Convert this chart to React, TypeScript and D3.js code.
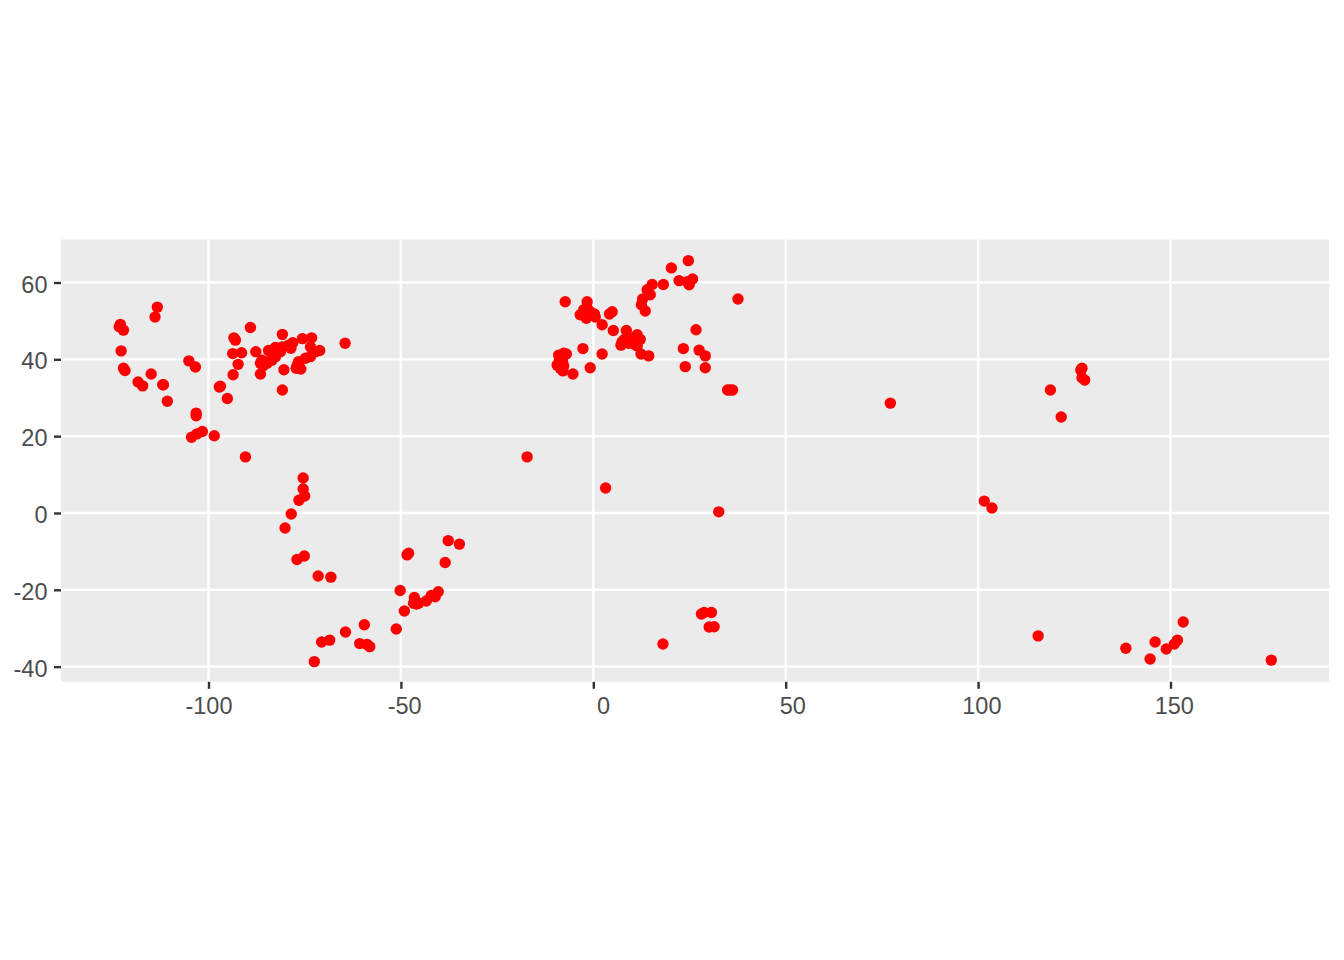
import React, { useEffect, useRef } from 'react';
import * as d3 from 'd3';

// [longitude, latitude]
const northAmerica: [number, number][] = [
  [-122.9, 49.1], [-123.2, 48.5], [-122.1, 47.6], [-122.7, 42.2], [-122.1, 37.7], [-121.7, 37.1],
  [-118.3, 34.1], [-117.1, 33.1], [-114.9, 36.2], [-111.9, 33.4], [-111.7, 33.4], [-110.7, 29.1],
  [-113.3, 53.6], [-113.9, 51.0], [-105.1, 39.6], [-103.4, 38.0], [-103.2, 26.0], [-103.2, 25.3],
  [-104.4, 19.7], [-103.0, 20.6], [-101.6, 21.2], [-98.5, 20.1], [-90.4, 14.6], [-97.2, 32.8],
  [-96.9, 33.0], [-95.1, 29.8], [-93.6, 36.0], [-92.3, 38.7], [-93.7, 41.5], [-91.4, 41.7],
  [-93.4, 45.6], [-93.0, 45.0], [-89.1, 48.3], [-87.7, 42.0], [-80.8, 46.5], [-86.5, 36.2],
  [-80.4, 37.3], [-80.8, 32.0], [-75.6, 45.4], [-73.2, 45.6], [-64.5, 44.2], [-73.5, 43.2],
  [-71.1, 42.3], [-72.2, 42.0], [-73.5, 40.7], [-74.8, 40.3], [-76.6, 39.4], [-77.2, 37.7],
  [-76.0, 37.5], [-76.9, 38.5], [-78.1, 44.3], [-79.2, 43.7], [-78.6, 42.9], [-80.9, 43.2],
  [-83.5, 42.3], [-81.8, 42.0], [-82.6, 40.7], [-86.1, 39.8], [-86.5, 39.0], [-84.8, 39.0],
  [-85.8, 38.3], [-84.4, 39.4], [-83.5, 39.8], [-81.3, 42.0], [-84.4, 42.3], [-82.6, 43.1],
  [-77.0, 38.0], [-76.4, 38.0],
];

const southAmerica: [number, number][] = [
  [-75.4, 9.1], [-75.4, 6.25], [-75.0, 4.4], [-76.5, 3.3], [-78.5, -0.26], [-80.1, -3.9],
  [-77.0, -12.1], [-75.1, -11.2], [-71.5, -16.4], [-68.2, -16.7], [-64.4, -31.0], [-59.5, -29.1],
  [-60.7, -34.0], [-58.8, -34.2], [-58.1, -34.8], [-68.5, -33.1], [-70.6, -33.6], [-72.5, -38.7],
  [-51.2, -30.2], [-49.1, -25.5], [-50.2, -20.2], [-48.4, -10.9], [-48.0, -10.5], [-37.7, -7.2],
  [-34.8, -8.1], [-38.5, -12.9], [-40.3, -20.5], [-41.1, -21.8], [-42.1, -21.5], [-43.4, -22.9],
  [-46.5, -22.0], [-46.7, -23.5], [-45.4, -23.5], [-46.0, -23.7],
];

const europe: [number, number][] = [
  [-7.3, 55.0], [-1.6, 55.0], [-1.6, 53.3], [-2.5, 52.9], [-3.4, 51.6], [-1.8, 50.7],
  [-0.8, 52.4], [0.3, 51.8], [0.5, 51.0], [4.9, 52.4], [4.2, 51.8], [2.3, 49.0],
  [5.2, 47.5], [8.6, 47.5], [11.4, 46.4], [12.2, 45.2], [8.1, 45.2], [9.2, 44.2],
  [7.2, 43.7], [10.9, 43.8], [11.4, 43.5], [10.5, 45.5], [7.5, 44.6], [12.4, 41.4],
  [14.4, 40.9], [-2.7, 42.8], [2.3, 41.4], [-0.8, 37.8], [-5.3, 36.2], [-7.7, 41.6],
  [-9.0, 41.1], [-7.0, 41.4], [-8.8, 39.8], [-9.4, 38.5], [-7.7, 38.3], [-8.6, 37.7],
  [-7.9, 37.0], [13.5, 52.6], [12.5, 54.2], [12.8, 55.7], [14.0, 58.1], [14.8, 56.8],
  [15.3, 59.5], [18.2, 59.5], [20.3, 63.8], [24.7, 65.7], [22.3, 60.5], [24.9, 59.4],
  [25.8, 60.9], [24.4, 60.2], [37.6, 55.7], [26.7, 47.7], [23.4, 42.8], [27.5, 42.4],
  [29.1, 40.9], [23.9, 38.1], [29.1, 37.8], [34.9, 32.0], [35.5, 32.0], [36.2, 32.0],
  [-8.0, 40.6], [-8.6, 39.2], [-8.0, 39.4], [-8.3, 38.6], [-2.2, 52.0], [-1.2, 51.6],
];

const africa: [number, number][] = [
  [-17.2, 14.6], [3.2, 6.5], [32.6, 0.3], [18.1, -34.1], [28.1, -26.3], [28.8, -25.9],
  [30.7, -25.9], [30.1, -29.7], [31.4, -29.6],
];

const asiaPacific: [number, number][] = [
  [77.2, 28.6], [127.0, 37.7], [126.7, 37.2], [127.0, 35.2], [127.7, 34.6], [118.8, 32.0],
  [121.6, 25.0], [101.6, 3.1], [103.6, 1.3], [115.6, -32.0], [138.4, -35.2], [144.7, -38.0],
  [146.0, -33.6], [148.9, -35.4], [151.0, -34.1], [151.8, -33.1], [153.3, -28.4], [176.2, -38.3],
];

const xTicks = [-100, -50, 0, 50, 100, 150];
// the labels carry leading spaces as in the original, so they sit off centre
const xTickLabels = ['-100', ' -50', '   0', '  50', ' 100', ' 150'];
const yTicks = [-40, -20, 0, 20, 40, 60];
const yTickLabels = ['-40', '-20', '0', '20', '40', '60'];

export default function App() {
  const ref = useRef<SVGSVGElement>(null);

  useEffect(() => {
    const svg = d3.select(ref.current);
    svg.selectAll('*').remove();

    const left = 61, right = 1329, top = 239.5, bottom = 681.8;

    const x = d3.scaleLinear().domain([-138.33, 191.19]).range([left, right]);
    const y = d3.scaleLinear().domain([71.2, -43.95]).range([top, bottom]);

    svg.append('rect')
      .attr('x', left)
      .attr('y', top)
      .attr('width', right - left)
      .attr('height', bottom - top)
      .attr('fill', '#EBEBEB');

    // grid
    svg.append('g').selectAll('line').data(xTicks).enter().append('line')
      .attr('x1', d => x(d)).attr('x2', d => x(d))
      .attr('y1', top).attr('y2', bottom)
      .attr('stroke', '#fff').attr('stroke-width', 2.4);
    svg.append('g').selectAll('line').data(yTicks).enter().append('line')
      .attr('x1', left).attr('x2', right)
      .attr('y1', d => y(d)).attr('y2', d => y(d))
      .attr('stroke', '#fff').attr('stroke-width', 2.4);

    const xAxis = d3.axisBottom(x)
      .tickValues(xTicks)
      .tickSize(7)
      .tickPadding(8.5)
      .tickFormat((d, i) => xTickLabels[i]);
    const yAxis = d3.axisLeft(y)
      .tickValues(yTicks)
      .tickSize(7)
      .tickPadding(6.5)
      .tickFormat((d, i) => yTickLabels[i]);

    const gx = svg.append('g').attr('transform', `translate(0,${bottom})`).call(xAxis);
    const gy = svg.append('g').attr('transform', `translate(${left},0)`).call(yAxis);

    for (const g of [gx, gy]) {
      g.select('.domain').remove();
      g.selectAll('.tick line').attr('stroke', '#333333').attr('stroke-width', 2.4);
      g.selectAll('.tick text')
        .attr('fill', '#4D4D4D')
        .style('font-family', '"Liberation Sans", Arial, sans-serif')
        .style('font-size', '23.5px')
        .style('white-space', 'pre');
    }
    gy.selectAll('.tick text').attr('dy', '0.405em');

    const points = [...northAmerica, ...southAmerica, ...europe, ...africa, ...asiaPacific];
    svg.append('g').selectAll('circle').data(points).enter().append('circle')
      .attr('cx', d => x(d[0]))
      .attr('cy', d => y(d[1]))
      .attr('r', 5.7)
      .attr('fill', '#FF0000');
  }, []);

  return (
    <svg
      ref={ref}
      width={1344}
      height={960}
      style={{ position: 'absolute', left: 0, top: 0, background: '#fff' }}
    />
  );
}
